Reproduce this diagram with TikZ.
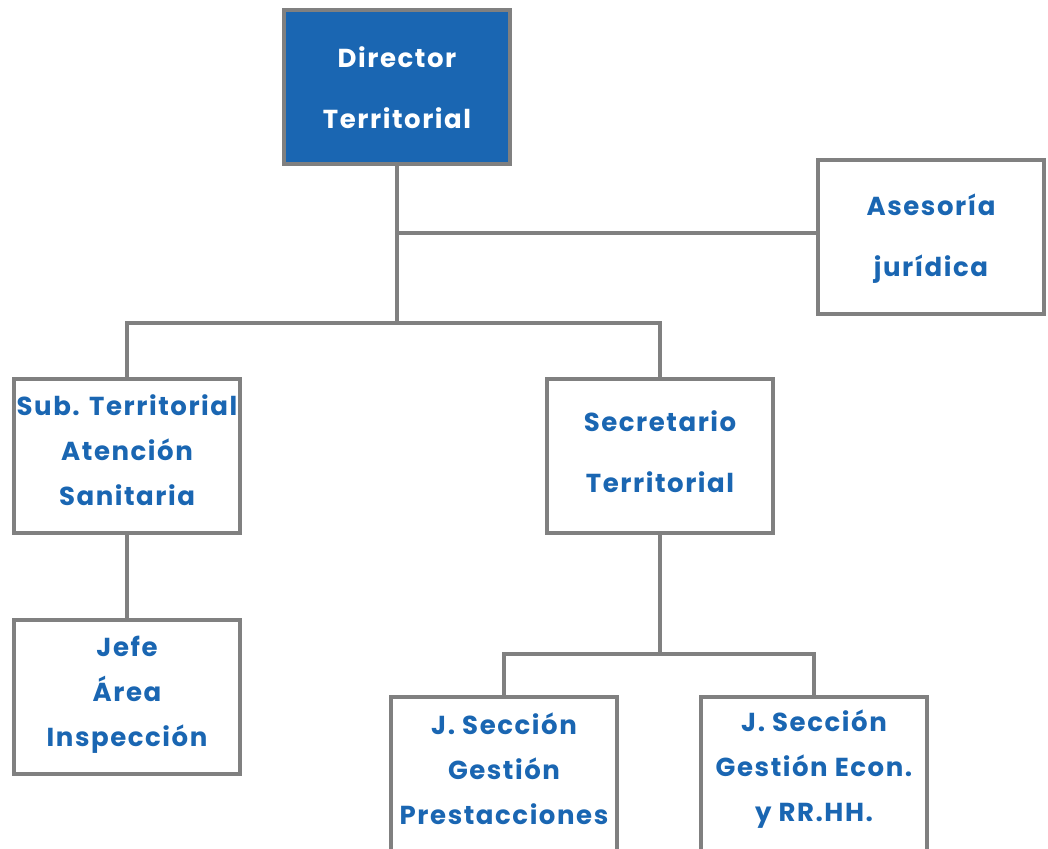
\documentclass[tikz,border=0pt]{standalone}
\usepackage{fontspec}
\newfontfamily\orgfont{Poppins}[LetterSpace=6]
\definecolor{orgblue}{HTML}{1A66B2}
\definecolor{orggray}{HTML}{808080}
\tikzset{
  orgbox/.style={draw=orggray, line width=4pt, fill=white, rectangle,
    minimum width=226pt, minimum height=154pt, inner sep=0pt},
  orgtext/.style={inner sep=0pt, align=center, text=orgblue,
    font=\orgfont\bfseries\fontsize{26}{45}\selectfont},
  twoline/.style={font=\orgfont\bfseries\fontsize{26}{61}\selectfont},
  topbox/.style={orgbox, fill=orgblue},
  conn/.style={draw=orggray, line width=4pt}
}
\begin{document}
\begin{tikzpicture}[x=1pt, y=-1pt]
\useasboundingbox (0,0) rectangle (1048,848);
\clip (0,0) rectangle (1048,848);
% boxes
\node[topbox] (dir) at (397,87) {};
\node[orgbox] (ase) at (931,237) {};
\node[orgbox] (sub) at (127,455.5) {};
\node[orgbox] (sec) at (660,455.5) {};
\node[orgbox] (jefe) at (127,697) {};
\node[orgbox, minimum height=180pt, anchor=north] (js1) at (504,695) {};
\node[orgbox, minimum height=180pt, anchor=north] (js2) at (814,695) {};
% texts
\node[orgtext, twoline, text=white] (dirt) at (397,88) {Director\\Territorial};
\node[orgtext, twoline] (aset) at (931,239) {Asesoría\\jurídica};
\node[orgtext] (subt) at (127,450.5) {Sub. Territorial\\Atención\\Sanitaria};
\node[orgtext, twoline] (sect) at (660,451.5) {Secretario\\Territorial};
\node[orgtext] (jefet) at (127,695) {Jefe\\Área\\Inspección};
\node[orgtext] (js1t) at (504,769) {J. Sección\\Gestión\\Prestacciones};
\node[orgtext] (js2t) at (814,769) {J. Sección\\Gestión Econ.\\y RR.HH.};
% junctions
\coordinate (j0) at (dir.south |- 0,233);
\coordinate (j1) at (dir.south |- 0,323);
\coordinate (j2) at (sec.south |- 0,654);
% connectors
\draw[conn] (dir.south) -- (j1);
\draw[conn] (j0) -- (j0 -| ase.west);
\draw[conn] (sub.north) |- (j1) -| (sec.north);
\draw[conn] (sub.south) -- (jefe.north);
\draw[conn] (sec.south) -- (j2);
\draw[conn] (js1.north) |- (j2) -| (js2.north);
\end{tikzpicture}
\end{document}
